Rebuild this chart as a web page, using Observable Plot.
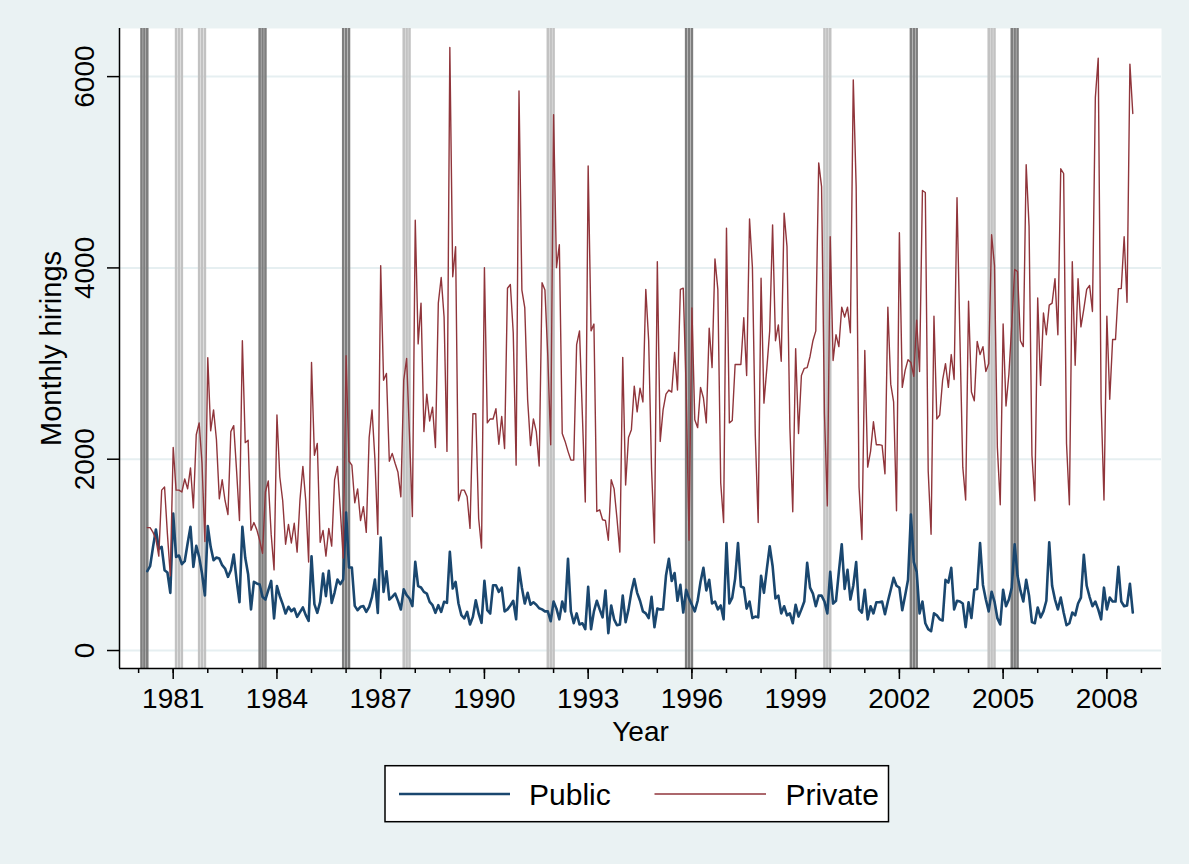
<!DOCTYPE html>
<html><head><meta charset="utf-8">
<script src="https://cdn.jsdelivr.net/npm/d3@7"></script>
<script src="https://cdn.jsdelivr.net/npm/@observablehq/plot@0.6"></script>
<style>
html,body{margin:0;padding:0;background:#eaf2f3;}
#chart{width:1189px;height:864px;position:relative;background:#eaf2f3;overflow:hidden;}
#chart svg{display:block;}
</style></head><body><div id="chart"></div>
<script>
// First observation: April 1980, monthly through October 2008
const startYear = 1980, startMonth = 4;

const publicHirings = [
830,882,1084,1265,1066,1084,840,816,603,1432,
979,993,903,934,1119,1293,875,1094,979,805,
575,1300,1084,944,972,962,892,857,770,840,
1004,735,505,1293,969,798,429,718,701,690,
561,533,631,728,335,673,568,485,387,457,
411,439,352,401,450,370,310,986,485,394,
509,805,568,833,498,606,742,694,742,1443,
868,868,467,422,457,464,404,457,561,742,
394,1181,613,829,533,561,596,519,429,641,
579,544,464,927,673,659,613,596,509,474,
394,474,404,509,498,1032,648,718,492,370,
335,404,272,352,526,387,289,728,422,387,
683,683,613,657,409,430,471,520,326,864,
657,491,603,479,504,479,442,430,409,409,
306,512,438,326,512,409,958,409,285,388,
272,285,223,665,223,409,520,430,347,628,
182,471,326,264,272,574,297,430,615,748,
603,520,409,388,339,562,244,438,430,430,
781,958,727,810,520,686,397,636,545,479,
409,520,719,864,628,740,491,512,430,471,
326,1124,491,553,752,1124,669,657,438,512,
339,355,347,781,603,851,1090,884,545,574,
388,463,368,388,285,479,355,430,512,917,
657,595,463,574,574,512,388,822,491,520,
822,1111,644,843,533,677,925,430,397,636,
326,463,388,504,504,512,380,512,636,760,
677,657,421,574,739,1421,925,822,388,512,
285,223,202,388,368,326,314,739,710,864,
430,520,512,491,244,504,339,636,644,1124,
686,533,409,615,512,339,272,636,463,533,
657,1111,781,628,512,739,574,297,285,450,
347,409,520,1132,677,533,430,553,397,264,
285,397,368,491,553,1000,677,562,463,512,
430,326,657,430,553,512,512,876,512,463,
471,698,397
];

const privateHirings = [
1285,1285,1235,1165,987,1677,1710,1214,781,2123,
1677,1677,1657,1793,1690,1909,1491,2256,2380,1958,
1140,3061,2297,2516,2206,1586,1785,1566,1421,2289,
2351,1876,1359,3239,2173,2198,1256,1338,1264,1153,
1016,1657,1772,1214,843,2462,1814,1566,1111,1318,
1124,1330,1029,1578,1925,1566,925,3012,2041,2165,
1132,1256,987,1277,1091,1785,1925,1462,967,3082,
1979,1938,1545,1690,1359,1504,1235,2227,2516,2000,
1214,4024,2826,2896,1979,2061,1958,1863,1607,2826,
3053,2247,1400,4499,3206,3632,2289,2681,2400,2545,
2123,3632,3900,3487,2082,6305,3908,4222,1566,1677,
1677,1607,1277,2475,2475,1380,1070,4003,2380,2421,
2421,2528,2157,2446,2111,3788,3826,3322,1938,5850,
3768,3586,2619,2144,2421,2289,1929,3846,3768,3074,
2152,5602,4003,4243,2268,2186,2082,1991,1991,3198,
3342,2454,1553,5065,3342,3413,1454,1471,1367,1359,
1153,1785,1690,1380,1029,3065,1731,2227,2309,2764,
2495,2743,2599,3776,3239,1896,1124,4065,2186,2516,
2681,2723,2702,3115,2723,3776,3788,2743,1153,3582,
2413,2330,2751,2640,2380,3371,2958,4094,3776,1752,
1338,4416,2380,2405,2991,2991,2991,3479,2875,4511,
4003,2247,1338,3892,2586,2950,3342,4450,3239,3404,
3024,4573,4222,2330,1450,3156,2268,2875,2950,2958,
3074,3239,3342,5098,4850,2475,1512,4326,3032,3301,
3177,3590,3487,3590,3322,5966,4850,1710,1161,3136,
1917,2082,2392,2152,2152,2144,1847,3590,2785,2599,
1462,4367,2751,2929,3041,3012,2867,3454,2917,4809,
4788,1876,1215,3495,2421,2462,2826,2999,2751,3094,
2834,4735,3280,1917,1574,3652,2702,2611,3231,3094,
3177,2917,2999,4346,4024,2123,1524,3413,2557,2888,
3404,3983,3962,3239,3177,5078,4437,2041,1566,3685,
2772,3528,3301,3611,3632,3888,3301,5036,4987,2165,
1524,4065,2983,3888,3384,3570,3776,3817,3545,5780,
6193,2599,1574,3495,2627,3251,3251,3784,3784,4326,
3640,6131,5615
];

// Marked months (vertical reference lines)
const darkEventMonths = [
"1980-02","1980-03","1980-04","1983-07","1983-08","1983-09",
"1985-12","1986-01","1986-02","1995-11","1995-12","1996-01",
"2002-05","2002-06","2002-07","2005-04","2005-05","2005-06"
];
const lightEventMonths = [
"1981-02","1981-03","1981-04","1981-10","1981-11","1981-12",
"1987-09","1987-10","1987-11","1991-11","1991-12","1992-01",
"1999-11","1999-12","2000-01","2004-08","2004-09","2004-10"
];

const yTicks = [0, 2000, 4000, 6000];
const xMajorTicks = [1981,1984,1987,1990,1993,1996,1999,2002,2005,2008];
const xMinorTicks = [1980,1981,1982,1983,1984,1985,1986,1987,1988,1989,1990,1991,1992,1993,1994,1995,1996,1997,1998,1999,2000,2001,2002,2003,2004,2005,2006,2007,2008,2009];

const seriesNames = ["Public", "Private"];
const seriesColors = ["#1a476f", "#90353b"];

const monthToYear = s => { const [y, m] = s.split("-").map(Number); return y + (m - 1) / 12; };
const dates = publicHirings.map((_, i) => startYear + (startMonth - 1 + i) / 12);

const xDomain = [1979.447, 2009.58];
const yDomain = [-188, 6503];
const font = "'Liberation Sans', Arial, Helvetica, sans-serif";

const chart = Plot.plot({
  width: 1189,
  height: 750,
  marginLeft: 119,
  marginRight: 28,
  marginTop: 28,
  marginBottom: 82,
  x: {type: "linear", domain: xDomain},
  y: {type: "linear", domain: yDomain},
  style: {background: "transparent", fontFamily: font, color: "black", overflow: "visible"},
  marks: [
    Plot.frame({fill: "white", stroke: null}),
    Plot.ruleY(yTicks, {stroke: "#e6eff1", strokeWidth: 2}),
    Plot.ruleX(lightEventMonths.map(monthToYear), {x: d => d, stroke: "#c2c2c2", strokeWidth: 2.55}),
    Plot.ruleX(darkEventMonths.map(monthToYear), {x: d => d, stroke: "#7e7e7e", strokeWidth: 2.55}),
    Plot.line(publicHirings, {x: (d, i) => dates[i], y: d => d, stroke: seriesColors[0], strokeWidth: 2.6, strokeLinejoin: "round"}),
    Plot.line(privateHirings, {x: (d, i) => dates[i], y: d => d, stroke: seriesColors[1], strokeWidth: 1.4, strokeLinejoin: "round"}),
    Plot.ruleX([xDomain[0]], {stroke: "black", strokeWidth: 1.5}),
    Plot.ruleY([yDomain[0]], {stroke: "black", strokeWidth: 1.5}),
    Plot.axisY(yTicks, {tickSize: 12, strokeWidth: 1.5, tickFormat: () => "", label: null}),
    Plot.text(yTicks, {y: d => d, frameAnchor: "left", text: d => String(d), rotate: -90, dx: -26,
      lineAnchor: "bottom", textAnchor: "middle", fontSize: 28, fill: "black"}),
    Plot.axisX(xMinorTicks, {tickSize: 5, strokeWidth: 1.5, tickFormat: () => "", label: null}),
    Plot.axisX(xMajorTicks, {tickSize: 11, strokeWidth: 1.5, tickPadding: 9, fontSize: 28, tickFormat: d => String(d), label: null}),
    Plot.text(["Year"], {frameAnchor: "bottom", text: d => d, dy: 72, lineAnchor: "bottom", fontSize: 28, fill: "black"}),
    Plot.text(["Monthly hirings"], {frameAnchor: "left", text: d => d, rotate: -90, dx: -59, lineAnchor: "bottom", textAnchor: "middle", fontSize: 29, fill: "black"})
  ]
});

const root = document.getElementById("chart");
root.appendChild(chart);

// Legend below the plot
const leg = d3.select(root).append("svg")
  .attr("width", 1189).attr("height", 114)
  .style("display", "block")
  .style("font-family", font);
leg.append("rect").attr("x", 385).attr("y", 15.7).attr("width", 503.5).attr("height", 56)
  .attr("fill", "white").attr("stroke", "black").attr("stroke-width", 1.5);
const legItems = [
  {name: seriesNames[0], color: seriesColors[0], w: 2.6, x1: 399, x2: 510, tx: 529},
  {name: seriesNames[1], color: seriesColors[1], w: 1.4, x1: 654.5, x2: 766, tx: 785.5}
];
for (const it of legItems) {
  leg.append("line").attr("x1", it.x1).attr("x2", it.x2).attr("y1", 44).attr("y2", 44)
    .attr("stroke", it.color).attr("stroke-width", it.w);
  leg.append("text").attr("x", it.tx).attr("y", 55).attr("font-size", 30).attr("fill", "black").text(it.name);
}
</script>
</body></html>
